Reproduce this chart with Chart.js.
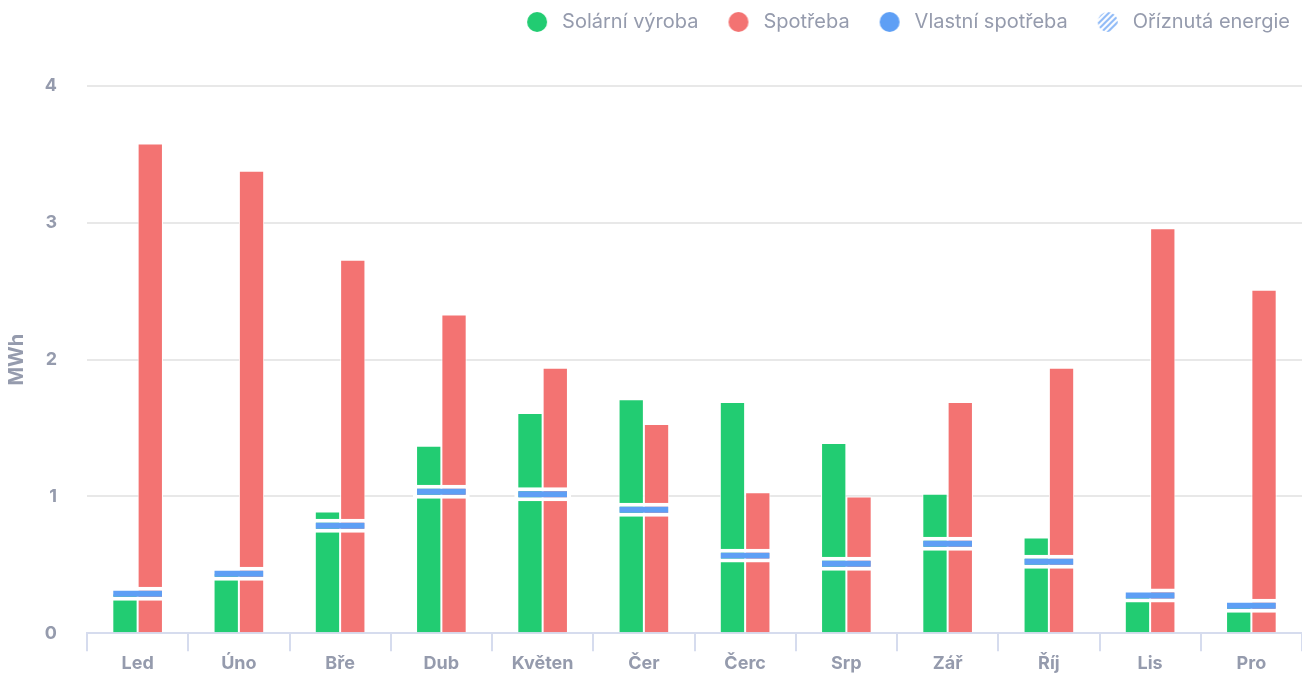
<!DOCTYPE html>
<html>
<head>
<meta charset="utf-8">
<script src="https://cdn.jsdelivr.net/npm/chart.js@4.4.0/dist/chart.umd.min.js"></script>
<style>
  body { margin: 0; background: #fff; }
  #wrap { width: 1302px; height: 674px; }
</style>
</head>
<body>
<div id="wrap"><canvas id="energy-chart"></canvas></div>
<script>
const months = ['Led', 'Úno', 'Bře', 'Dub', 'Květen', 'Čer', 'Čerc', 'Srp', 'Zář', 'Říj', 'Lis', 'Pro'];
const solarValues = [0.29, 0.44, 0.89, 1.37, 1.61, 1.71, 1.69, 1.39, 1.02, 0.7, 0.28, 0.2];
const consumptionValues = [3.58, 3.38, 2.73, 2.33, 1.94, 1.53, 1.03, 1.0, 1.69, 1.94, 2.96, 2.51];
const selfConsumptionValues = [0.288, 0.435, 0.786, 1.034, 1.016, 0.902, 0.567, 0.508, 0.654, 0.523, 0.275, 0.2];
const curtailedValues = [0, 0, 0, 0, 0, 0, 0, 0, 0, 0, 0, 0];
const yTicks = [0, 1, 2, 3, 4];
const seriesNames = ['Solární výroba', 'Spotřeba', 'Vlastní spotřeba', 'Oříznutá energie'];

const FONT = 'Inter';
const TEXT_COLOR = '#959bad';
const GREEN = '#22cc72';
const RED = '#f37372';
const BLUE = '#5e9ff5';
const markerHalf = 0.051; // half height of the self-consumption marker, in MWh

// diagonal stripes for the curtailed energy
function makeHatch() {
    const c = document.createElement('canvas');
    c.width = 6;
    c.height = 6;
    const g = c.getContext('2d');
    g.fillStyle = '#ffffff';
    g.fillRect(0, 0, 6, 6);
    g.strokeStyle = '#8db9f7';
    g.lineWidth = 2;
    g.beginPath();
    g.moveTo(-1, 7); g.lineTo(7, -1);
    g.moveTo(-4, 4); g.lineTo(4, -4);
    g.moveTo(2, 10); g.lineTo(10, 2);
    g.stroke();
    return g.createPattern(c, 'repeat');
}
const hatch = makeHatch();

// legend marker: a 20px dot, pushed right inside a wider canvas
function makeDot(fill) {
    const c = document.createElement('canvas');
    c.width = 43;
    c.height = 20;
    const g = c.getContext('2d');
    g.fillStyle = fill;
    g.beginPath();
    g.arc(28, 10, 10, 0, Math.PI * 2);
    g.fill();
    return c;
}
const dotFills = [GREEN, RED, BLUE, hatch];

const legendSpacing = {
    id: 'legendSpacing',
    beforeInit(chart) {
        const fit = chart.legend.fit;
        chart.legend.fit = function () {
            fit.bind(chart.legend)();
            this.height += 44;
        };
    }
};

const ctx = document.getElementById('energy-chart').getContext('2d');

new Chart(ctx, {
    type: 'bar',
    data: {
        labels: months,
        datasets: [
            {
                label: seriesNames[0],
                data: solarValues,
                backgroundColor: GREEN,
                borderColor: '#ffffff',
                borderWidth: 1,
                categoryPercentage: 0.5,
                barPercentage: 1,
                order: 2
            },
            {
                label: seriesNames[1],
                data: consumptionValues,
                backgroundColor: RED,
                borderColor: '#ffffff',
                borderWidth: 1,
                categoryPercentage: 0.5,
                barPercentage: 1,
                order: 2
            },
            {
                label: seriesNames[2],
                data: selfConsumptionValues.map(v => [v - markerHalf, v + markerHalf]),
                grouped: false,
                backgroundColor: BLUE,
                borderColor: '#ffffff',
                borderWidth: 4,
                borderSkipped: false,
                categoryPercentage: 0.56,
                barPercentage: 1,
                order: 0
            },
            {
                label: seriesNames[3],
                data: curtailedValues,
                grouped: false,
                backgroundColor: hatch,
                borderWidth: 0,
                categoryPercentage: 0.5,
                barPercentage: 1,
                order: 1
            }
        ]
    },
    options: {
        responsive: true,
        maintainAspectRatio: false,
        animation: false,
        layout: { padding: 0 },
        plugins: {
            tooltip: { enabled: false },
            legend: {
                position: 'top',
                align: 'end',
                labels: {
                    usePointStyle: true,
                    pointStyleWidth: 43,
                    padding: 12,
                    color: TEXT_COLOR,
                    font: { family: FONT, size: 20 },
                    generateLabels: () => seriesNames.map((name, i) => ({
                        text: name,
                        fillStyle: dotFills[i],
                        strokeStyle: 'transparent',
                        lineWidth: 0,
                        pointStyle: makeDot(dotFills[i]),
                        fontColor: TEXT_COLOR,
                        hidden: false,
                        datasetIndex: i
                    }))
                }
            }
        },
        scales: {
            x: {
                offset: true,
                grid: {
                    offset: true,
                    drawOnChartArea: false,
                    drawTicks: true,
                    tickLength: 18,
                    color: '#d6dcee',
                    lineWidth: 2
                },
                border: { display: true, color: '#d6dcee', width: 2 },
                ticks: {
                    color: TEXT_COLOR,
                    font: { family: FONT, size: 18, weight: 'bold' },
                    padding: 2
                },
                afterFit: s => { s.height = 40; }
            },
            y: {
                min: 0,
                max: 4,
                afterBuildTicks: s => { s.ticks = yTicks.map(v => ({ value: v })); },
                ticks: {
                    color: TEXT_COLOR,
                    font: { family: FONT, size: 18, weight: 'bold' },
                    padding: 30
                },
                grid: { color: '#e8e8e8', lineWidth: 2, drawTicks: false },
                border: { display: false },
                title: {
                    display: true,
                    text: 'MWh',
                    color: TEXT_COLOR,
                    font: { family: FONT, size: 20, weight: 'bold' },
                    padding: { top: 5, bottom: 0 }
                },
                afterFit: s => { s.width = 87; }
            }
        }
    },
    plugins: [legendSpacing]
});
</script>
</body>
</html>
